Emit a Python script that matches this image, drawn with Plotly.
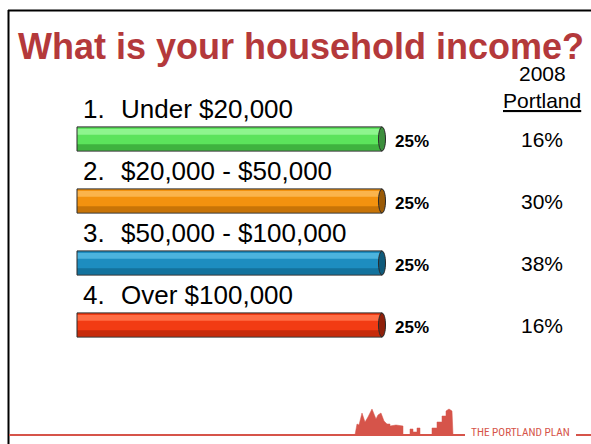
import plotly.graph_objects as go

# survey answers
numbers = ["1.", "2.", "3.", "4."]
categories = ["Under $20,000", "$20,000 - $50,000", "$50,000 - $100,000", "Over $100,000"]
responses = [25, 25, 25, 25]
portland_2008 = [16, 30, 38, 16]

# cylinder colours: body, highlight, shade, end cap
base_colors = ["#5ce35c", "#f3920f", "#1d8dc0", "#f23b13"]
light_colors = ["#8ef58e", "#fbb44c", "#4cb3dd", "#ff6d45"]
dark_colors = ["#3fb23f", "#c87407", "#13729d", "#c72b0b"]
cap_colors = ["#3d8f3d", "#9a5a06", "#0f5a7a", "#8f200a"]

W, H = 591, 444
FONT = "Liberation Sans, Arial, Helvetica, sans-serif"
RED = "#d6544a"


def px(x):
    return x / W


def py(y):
    return 1 - y / H


fig = go.Figure()

# body of each cylinder
fig.add_trace(go.Bar(x=responses, y=categories, orientation="h", width=0.39,
                     marker=dict(color=base_colors, line_width=0), hoverinfo="skip"))
# light stripe near the top
fig.add_trace(go.Bar(x=responses, y=categories, orientation="h", width=0.09, offset=-0.16,
                     marker=dict(color=light_colors, line_width=0), hoverinfo="skip"))
# darker shade at the bottom
fig.add_trace(go.Bar(x=responses, y=categories, orientation="h", width=0.1, offset=0.085,
                     marker=dict(color=dark_colors, line_width=0), hoverinfo="skip"))
# outline
fig.add_trace(go.Bar(x=responses, y=categories, orientation="h", width=0.39,
                     marker=dict(color="rgba(0,0,0,0)", line=dict(color="#2b2b2b", width=1)),
                     hoverinfo="skip"))

shapes = []
annotations = []

for i, (num, cat, val, port) in enumerate(zip(numbers, categories, responses, portland_2008)):
    # end cap of the cylinder
    shapes.append(dict(type="circle", xref="x", yref="y",
                       x0=val - 0.29, x1=val + 0.29, y0=i - 0.195, y1=i + 0.195,
                       fillcolor=cap_colors[i], line=dict(color="#2b2b2b", width=1)))
    annotations.append(dict(text=num, xref="paper", yref="y", x=px(81), y=cat, yshift=30,
                            xanchor="left", yanchor="middle", showarrow=False,
                            font=dict(size=26, color="black", family=FONT)))
    annotations.append(dict(text=cat, xref="paper", yref="y", x=px(119), y=cat, yshift=30,
                            xanchor="left", yanchor="middle", showarrow=False,
                            font=dict(size=26, color="black", family=FONT)))
    annotations.append(dict(text=f"<b>{val}%</b>", xref="x", yref="y", x=val, y=cat,
                            xshift=11, yshift=-2, xanchor="left", yanchor="middle",
                            showarrow=False, font=dict(size=17, color="black", family=FONT)))
    annotations.append(dict(text=f"{port}%", xref="paper", yref="y", x=px(542), y=cat,
                            xanchor="center", yanchor="middle", showarrow=False,
                            font=dict(size=21, color="black", family=FONT)))

annotations.append(dict(text="<b>What is your household income?</b>", xref="paper", yref="paper",
                        x=px(16), y=py(46), xanchor="left", yanchor="middle", showarrow=False,
                        font=dict(size=36, color="#b4393b", family=FONT)))
annotations.append(dict(text="2008", xref="paper", yref="paper", x=px(542), y=py(73),
                        xanchor="center", yanchor="middle", showarrow=False,
                        font=dict(size=21, color="black", family=FONT)))
annotations.append(dict(text="<u>Portland</u>", xref="paper", yref="paper", x=px(542), y=py(100),
                        xanchor="center", yanchor="middle", showarrow=False,
                        font=dict(size=21, color="black", family=FONT)))
annotations.append(dict(text="THE PORTLAND PLAN", xref="paper", yref="paper", x=px(469), y=py(432),
                        xanchor="left", yanchor="middle", showarrow=False,
                        font=dict(size=11.3,
                                  family="Liberation Sans Narrow, Roboto Condensed, DejaVu Sans Condensed, sans-serif",
                                  color=RED)))

# slide frame
shapes.append(dict(type="line", xref="paper", yref="paper", x0=px(8.5), x1=px(8.5),
                   y0=py(10), y1=0, line=dict(color="black", width=2)))
shapes.append(dict(type="line", xref="paper", yref="paper", x0=px(8), x1=1,
                   y0=py(10.5), y1=py(10.5), line=dict(color="black", width=2)))
# footer line
shapes.append(dict(type="line", xref="paper", yref="paper", x0=px(9), x1=px(465),
                   y0=py(435), y1=py(435), line=dict(color=RED, width=2)))
shapes.append(dict(type="line", xref="paper", yref="paper", x0=px(576), x1=1,
                   y0=py(435), y1=py(435), line=dict(color=RED, width=2)))

# little skyline logo
sky = [(355, 435), (357, 424), (359, 425), (362, 413), (365, 422), (368, 417), (372, 409),
       (376, 419), (378, 415), (381, 413), (384, 421), (387, 424), (390, 424), (390, 426),
       (396, 425), (403, 426), (403, 435), (410, 435), (410, 429), (413, 429), (413, 432),
       (417, 432), (417, 428), (420, 428), (420, 435), (432, 435), (432, 428), (437, 428),
       (437, 422), (442, 422), (442, 416), (446, 416), (446, 411), (449, 409), (452, 411),
       (453, 435)]
path = "M " + " L ".join(f"{px(x):.5f},{py(y):.5f}" for x, y in sky) + " Z"
shapes.append(dict(type="path", xref="paper", yref="paper", path=path,
                   fillcolor=RED, line=dict(color=RED, width=0.5)))

fig.update_layout(
    width=W, height=H,
    margin=dict(l=0, r=0, t=0, b=0),
    paper_bgcolor="white", plot_bgcolor="white",
    barmode="overlay", showlegend=False,
    xaxis=dict(visible=False, range=[-77 / 12.2, (W - 77) / 12.2], fixedrange=True),
    yaxis=dict(visible=False, type="category", categoryorder="array", categoryarray=categories,
               range=[(H - 139) / 62, -139 / 62], fixedrange=True),
    shapes=shapes,
    annotations=annotations,
)

# drop the browser's default page margin so the slide fills the window
fig.write_html("out.html", config={"displayModeBar": False},
               post_script="document.body.style.margin='0';")
